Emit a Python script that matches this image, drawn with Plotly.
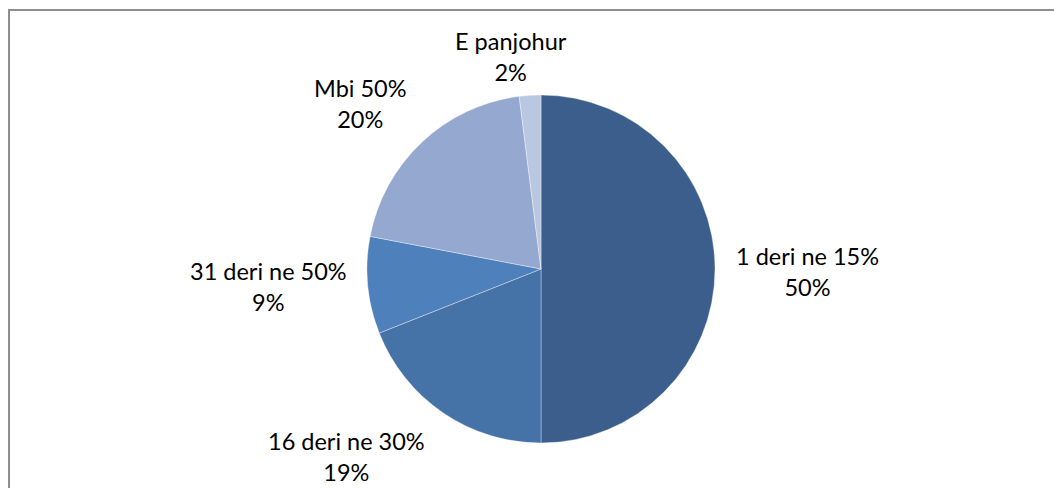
import plotly.graph_objects as go

# Share of respondents by category
categories = ["1 deri ne 15%", "16 deri ne 30%", "31 deri ne 50%", "Mbi 50%", "E panjohur"]
shares = [50, 19, 9, 20, 2]
colors = ["#3B5E8C", "#4572A7", "#4E80BC", "#95A9D0", "#BAC7E1"]

W, H = 1054, 488
cx, cy, r = 541, 269, 174  # pie centre and radius in pixels

# label anchor points (pixel centre of the two-line label)
label_pos = [(807, 271), (346, 456), (268, 286), (360, 103), (511, 56)]

fig = go.Figure(go.Pie(
    labels=categories,
    values=shares,
    sort=False,
    direction="clockwise",
    rotation=0,
    marker=dict(colors=colors, line=dict(color="rgba(255,255,255,0.6)", width=0.6)),
    textinfo="none",
    hoverinfo="label+percent",
    showlegend=False,
    domain=dict(x=[(cx - r) / W, (cx + r) / W], y=[1 - (cy + r) / H, 1 - (cy - r) / H]),
))

total = sum(shares)
for cat, val, (px, py) in zip(categories, shares, label_pos):
    fig.add_annotation(
        x=px / W, y=1 - py / H, xref="paper", yref="paper",
        text=f"{cat}<br>{round(100 * val / total)}%",
        showarrow=False, xanchor="center", yanchor="middle",
        font=dict(family="Lato, 'Open Sans', sans-serif", size=23.5, color="#000000"),
        align="center",
    )

# chart area frame
fig.add_shape(type="rect", xref="paper", yref="paper",
              x0=9 / W, x1=1.02, y0=-0.02, y1=1 - 10 / H,
              line=dict(color="#8E8E8E", width=2), fillcolor="rgba(0,0,0,0)")

fig.update_layout(
    width=W, height=H,
    margin=dict(l=0, r=0, t=0, b=0),
    paper_bgcolor="white", plot_bgcolor="white",
)

fig.write_html("out.html")
